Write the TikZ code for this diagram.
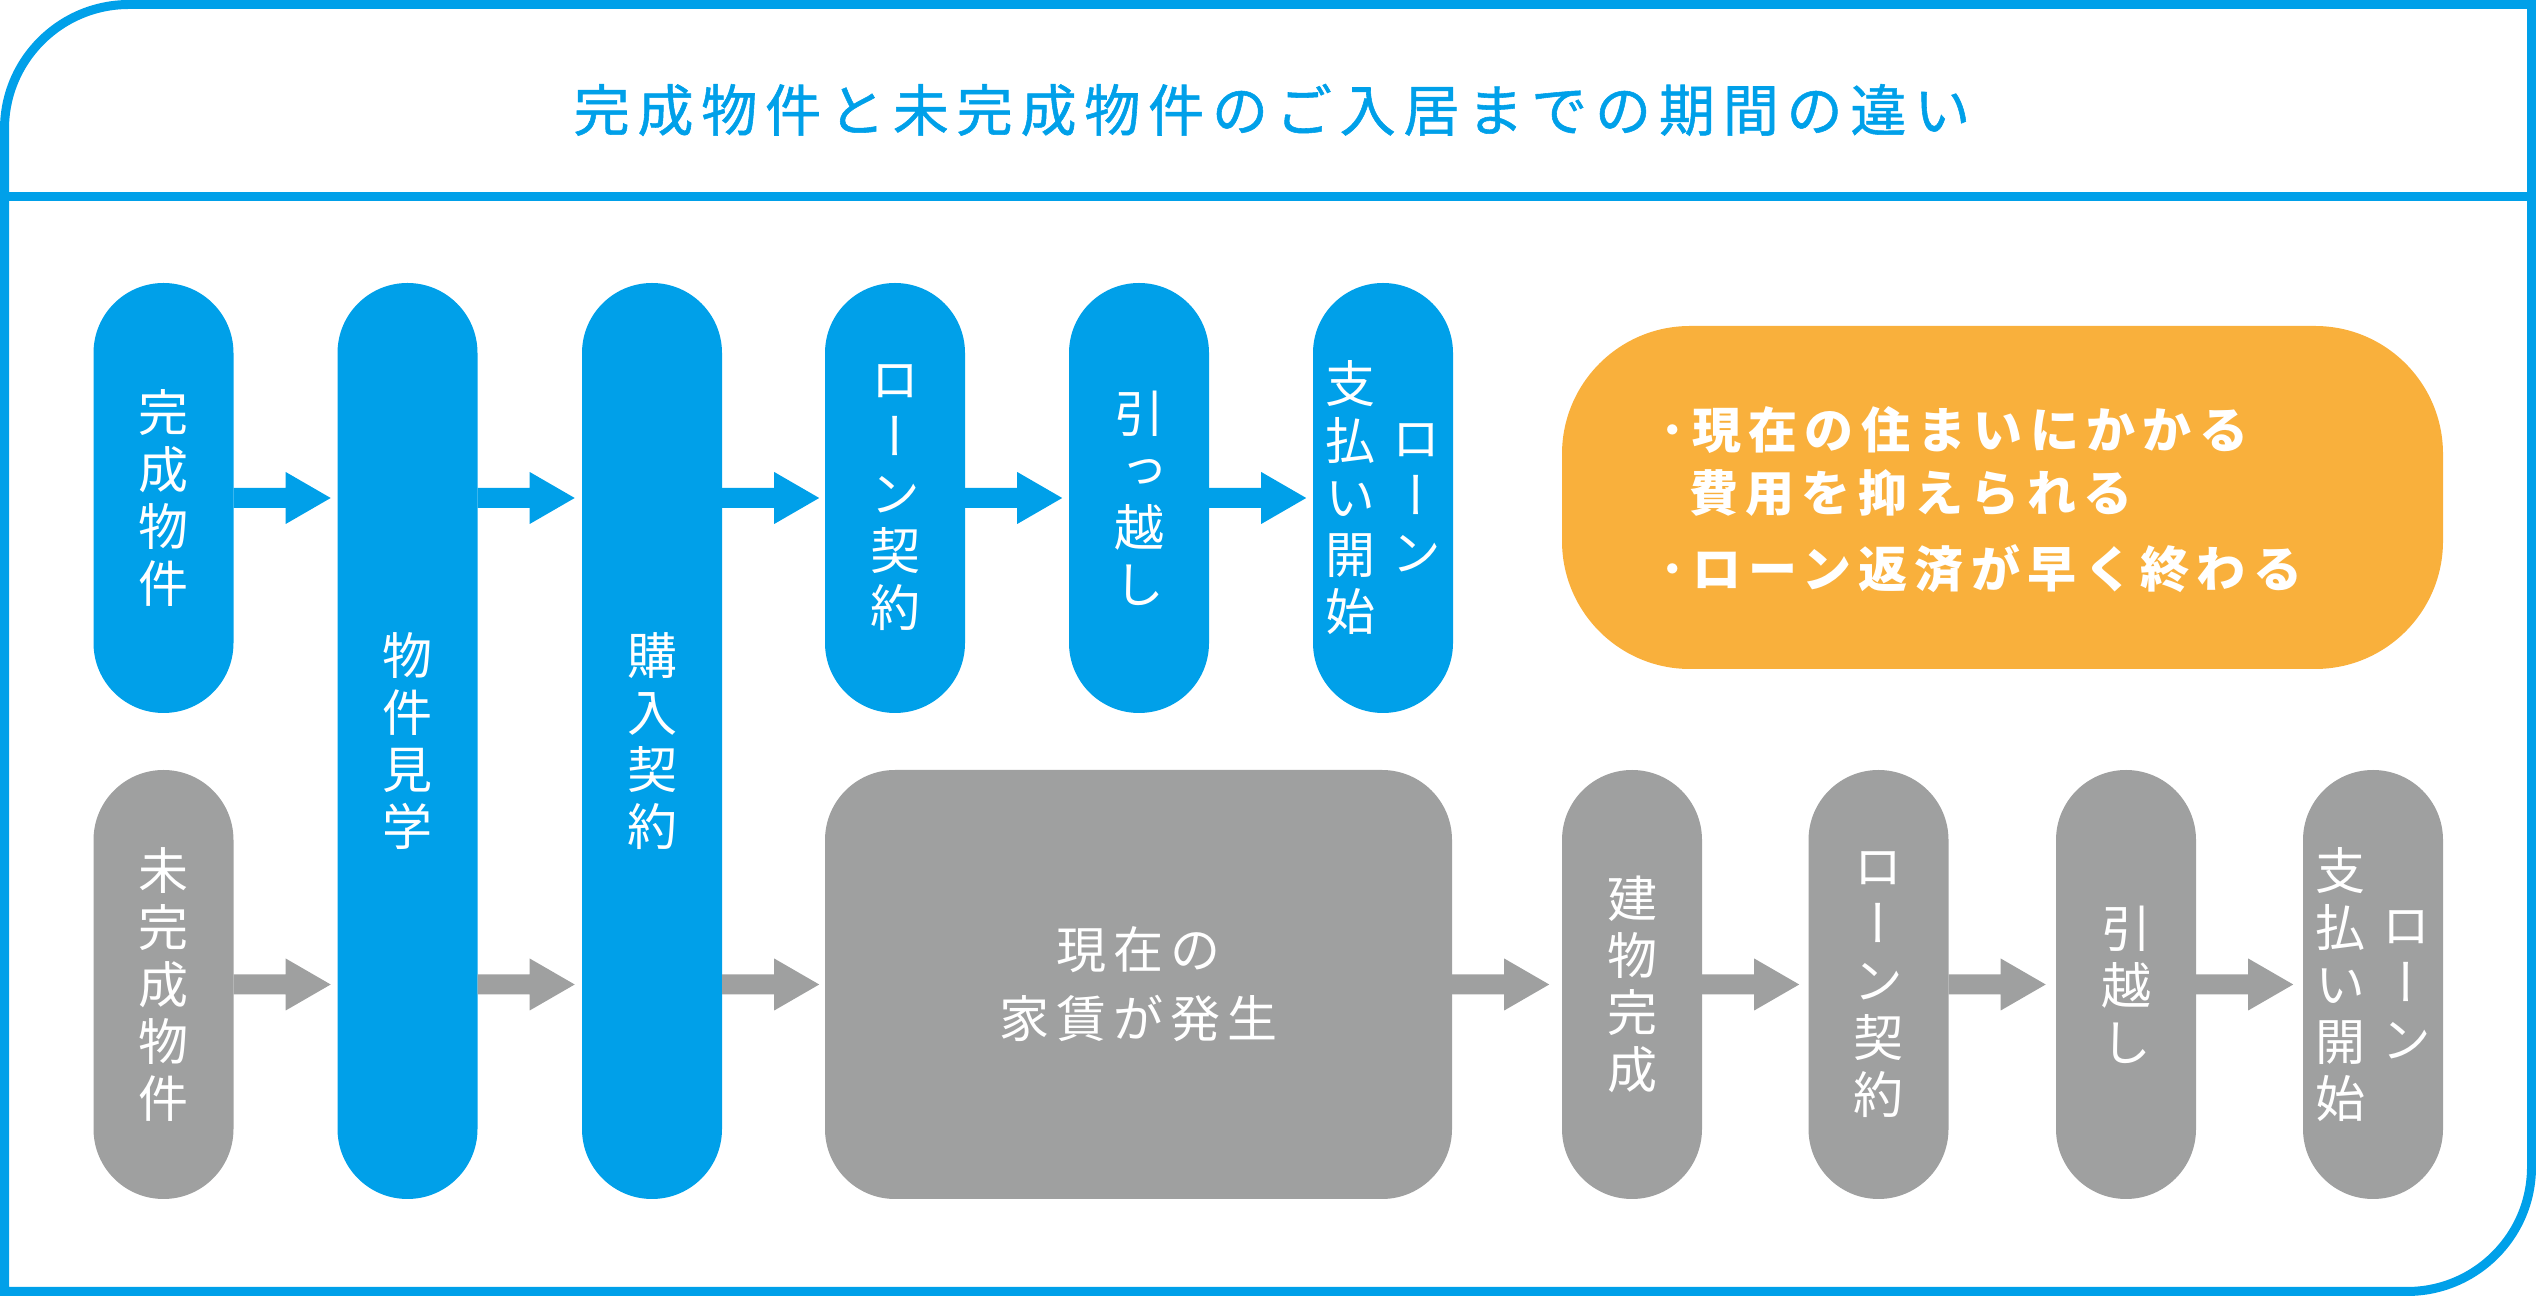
\documentclass[tikz,border=0pt]{standalone}
\usepackage{fontspec}
\usetikzlibrary{calc}
\newfontfamily\jpvert[RawFeature=+vert]{Noto Sans CJK JP}
\newfontfamily\jpsp[LetterSpace=14]{Noto Sans CJK JP}
\newfontfamily\jptitle[LetterSpace=14,FakeBold=1.0]{Noto Sans CJK JP}
\newfontfamily\jpbold[LetterSpace=15]{Noto Sans CJK JP}
\definecolor{mblue}{HTML}{00A0E9}
\definecolor{mgray}{HTML}{9FA0A0}
\definecolor{morange}{HTML}{F9B03C}
\newcommand\vtxt{\jpvert\fontsize{50}{57}\selectfont}
\newcommand\htxt{\jpsp\fontsize{50}{69}\selectfont}
\newcommand\twocol[2]{\parbox[c]{50pt}{\centering #1}\hspace{16pt}\parbox[c]{50pt}{\centering #2}}
\tikzset{
  pill/.style={rectangle, rounded corners=70pt, minimum width=140pt, inner sep=0pt,
    text=white, font=\vtxt, align=center},
  bpill/.style={pill, fill=mblue},
  gpill/.style={pill, fill=mgray},
  pillcols/.style={rectangle, rounded corners=70pt, minimum width=140pt, inner sep=0pt,
    text=white, font=\vtxt},
  flow/.style={to path={($(\tikztostart)+(0,10)$) -- ($(\tikztostart)+(52,10)$) -- ($(\tikztostart)+(52,26)$) -- ($(\tikztostart)+(97,0)$) -- ($(\tikztostart)+(52,-26)$) -- ($(\tikztostart)+(52,-10)$) -- ($(\tikztostart)+(0,-10)$) -- cycle}},
  otext/.style={anchor=west, inner sep=0pt, text=white, font=\jpbold\bfseries\fontsize{49}{55}\selectfont},
}
\begin{document}
\begin{tikzpicture}[x=1pt,y=1pt]
\useasboundingbox (0,0) rectangle (2536,1296);
% frame
\draw[mblue, line width=9pt] (4.5,4.5) -- (4.5,1167) arc[start angle=180,end angle=90,radius=124.5pt]
  -- (2531.5,1291.5) -- (2531.5,129) arc[start angle=0,end angle=-90,radius=124.5pt] -- cycle;
\draw[mblue, line width=9pt] (4.5,1099.5) -- (2531.5,1099.5);
\node[text=mblue, font=\jptitle\fontsize{56}{60}\selectfont, inner sep=0pt] (title) at (1272,1186)
  {完成物件と未完成物件のご入居までの期間の違い};
% top row
\node[bpill, minimum height=430pt] (p1) at (163.5,798) {完\\成\\物\\件};
\node[bpill, minimum height=916pt] (p2) at (407.5,555) {物\\件\\見\\学};
\node[bpill, minimum height=916pt] (p3) at (652,555) {購\\入\\契\\約};
\node[bpill, minimum height=430pt] (p4) at (895,798) {ロ\\ー\\ン\\契\\約};
\node[bpill, minimum height=430pt] (p5) at (1139,798) {引\\っ\\越\\し};
\node[pillcols, fill=mblue, minimum height=430pt] (p6) at (1383,798) {\twocol{支\\払\\い\\開\\始}{ロ\\ー\\ン}};
% orange box
\node[rectangle, rounded corners=128pt, fill=morange, minimum width=881pt, minimum height=343pt, inner sep=0pt] (ob) at (2002.5,798.5) {};
\node[otext] (o1) at (1660,866) {･現在の住まいにかかる};
\node[otext] (o2) at (1689,803) {費用を抑えられる};
\node[otext] (o3) at (1660,727) {･ローン返済が早く終わる};
% bottom row
\node[gpill, minimum height=429pt] (q1) at (163.5,311.5) {未\\完\\成\\物\\件};
\node[rectangle, rounded corners=70pt, fill=mgray, minimum width=627pt, minimum height=429pt, inner sep=0pt,
  text=white, font=\htxt, align=center] (gb) at (1138.5,311.5) {現在の\\家賃が発生};
\node[gpill, minimum height=429pt] (q7) at (1632,311.5) {建\\物\\完\\成};
\node[gpill, minimum height=429pt] (q8) at (1878.5,311.5) {ロ\\ー\\ン\\契\\約};
\node[gpill, minimum height=429pt] (q9) at (2126,311.5) {引\\越\\し};
\node[pillcols, fill=mgray, minimum height=429pt] (q10) at (2373,311.5) {\twocol{支\\払\\い\\開\\始}{ロ\\ー\\ン}};
% arrows top
\fill[mblue] (p1.east) to[flow] (p1.east -| p2.west);
\fill[mblue] (p2.east |- p1.east) to[flow] (p3.west |- p1.east);
\fill[mblue] (p3.east |- p4.west) to[flow] (p4.west);
\fill[mblue] (p4.east) to[flow] (p5.west);
\fill[mblue] (p5.east) to[flow] (p6.west);
% arrows bottom
\fill[mgray] (q1.east) to[flow] (q1.east -| p2.west);
\fill[mgray] (p2.east |- q1.east) to[flow] (p3.west |- q1.east);
\fill[mgray] (p3.east |- gb.west) to[flow] (gb.west);
\fill[mgray] (gb.east) to[flow] (q7.west);
\fill[mgray] (q7.east) to[flow] (q8.west);
\fill[mgray] (q8.east) to[flow] (q9.west);
\fill[mgray] (q9.east) to[flow] (q10.west);
\end{tikzpicture}
\end{document}
